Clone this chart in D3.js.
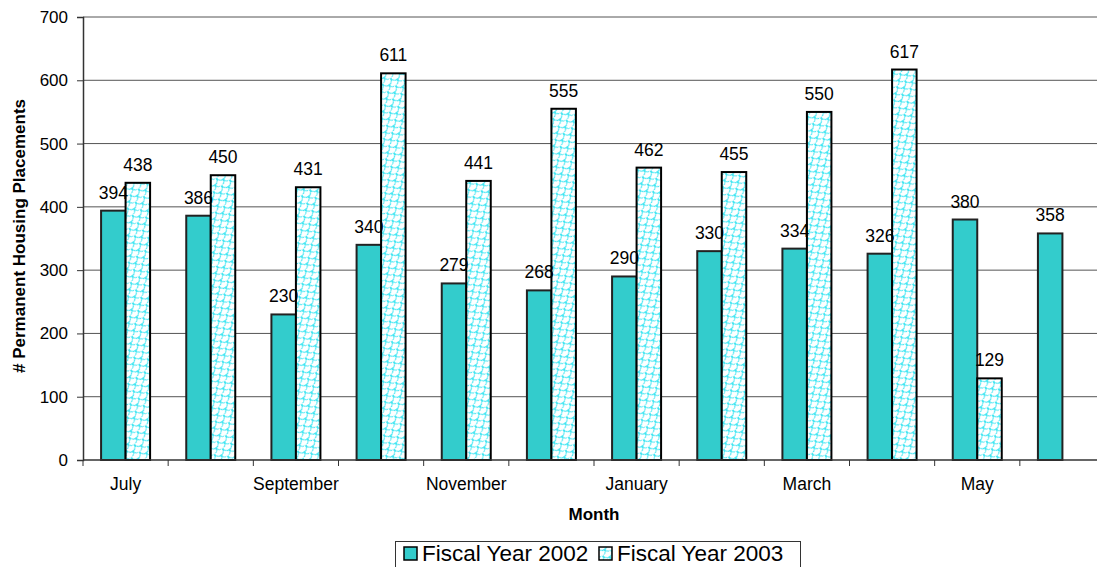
<!DOCTYPE html>
<html>
<head>
<meta charset="utf-8">
<script src="https://cdn.jsdelivr.net/npm/d3@7"></script>
<style>
  body { margin: 0; background: #fff; }
  svg { font-family: "Liberation Sans", Arial, sans-serif; }
</style>
</head>
<body>
<svg id="chart" width="1097" height="567"></svg>
<script>
var months = ["July","August","September","October","November","December","January","February","March","April","May","June"]
var shownMonths = ["July","September","November","January","March","May"]
var fy2002 = [394, 386, 230, 340, 279, 268, 290, 330, 334, 326, 380, 358]
var fy2003 = [438, 450, 431, 611, 441, 555, 462, 455, 550, 617, 129, null]
var yTicks = [0, 100, 200, 300, 400, 500, 600, 700]
var seriesNames = ["Fiscal Year 2002", "Fiscal Year 2003"]

var svg = d3.select("#chart")
var plotL = 83, plotR = 1105, plotT = 17, plotB = 460

// fish-scale pattern for FY 2003
var defs = svg.append("defs")
var pat = defs.append("pattern")
    .attr("id", "hatch")
    .attr("patternUnits", "userSpaceOnUse")
    .attr("width", 10).attr("height", 9)
    .attr("patternTransform", "rotate(-35)")
pat.append("rect").attr("width", 10).attr("height", 9).attr("fill", "#fff")
pat.append("path")
    .attr("d", "M0,4.5 A5,5 0 0,0 10,4.5 M-5,9 A5,5 0 0,0 5,9 M5,9 A5,5 0 0,0 15,9 M-5,0 A5,5 0 0,0 5,0 M5,0 A5,5 0 0,0 15,0")
    .attr("fill", "none").attr("stroke", "#10e0f0").attr("stroke-width", 1)

var x = d3.scaleBand().domain(months).range([plotL, plotR])
var y = d3.scaleLinear().domain([0, 700]).range([plotB, plotT])
var barW = 24.5

// gridlines
svg.append("g").selectAll("line").data(yTicks.slice(1)).join("line")
    .attr("x1", plotL).attr("x2", plotR)
    .attr("y1", d => y(d)).attr("y2", d => y(d))
    .attr("stroke", "#555").attr("stroke-width", 1)

// y axis
var yAxis = svg.append("g").attr("transform", "translate(" + plotL + ",0)")
    .call(d3.axisLeft(y).tickValues(yTicks).tickSize(6).tickPadding(9))
yAxis.select(".domain").attr("stroke", "#333").attr("stroke-width", 1.5)
yAxis.selectAll(".tick line").attr("stroke", "#333")
yAxis.selectAll("text").attr("font-size", 17).attr("fill", "#000")
    .attr("font-family", "Liberation Sans, Arial, sans-serif")

// bars
var g = svg.append("g")
g.selectAll(".b2002").data(months).join("rect")
    .attr("x", (d, i) => x(d) + x.bandwidth() / 2 - barW)
    .attr("y", (d, i) => y(fy2002[i]))
    .attr("width", barW)
    .attr("height", (d, i) => y(0) - y(fy2002[i]))
    .attr("fill", "#33cccc").attr("stroke", "#222").attr("stroke-width", 2)

var m03 = months.filter((d, i) => fy2003[i] != null)
g.selectAll(".b2003").data(m03).join("rect")
    .attr("x", d => x(d) + x.bandwidth() / 2)
    .attr("y", d => y(fy2003[months.indexOf(d)]))
    .attr("width", barW)
    .attr("height", d => y(0) - y(fy2003[months.indexOf(d)]))
    .attr("fill", "url(#hatch)").attr("stroke", "#000").attr("stroke-width", 2)

// value labels
g.selectAll(".l2002").data(months).join("text")
    .attr("x", d => x(d) + x.bandwidth() / 2 - barW / 2)
    .attr("y", (d, i) => y(fy2002[i]) - 12)
    .attr("text-anchor", "middle").attr("font-size", 17.5)
    .text((d, i) => fy2002[i])
g.selectAll(".l2003").data(m03).join("text")
    .attr("x", d => x(d) + x.bandwidth() / 2 + barW / 2)
    .attr("y", d => y(fy2003[months.indexOf(d)]) - 12)
    .attr("text-anchor", "middle").attr("font-size", 17.5)
    .text(d => fy2003[months.indexOf(d)])

// x axis line and ticks at band edges
svg.append("line").attr("x1", plotL).attr("x2", plotR)
    .attr("y1", plotB).attr("y2", plotB)
    .attr("stroke", "#333").attr("stroke-width", 1.5)
svg.append("g").selectAll("line").data(months).join("line")
    .attr("x1", d => x(d)).attr("x2", d => x(d))
    .attr("y1", plotB).attr("y2", plotB + 6)
    .attr("stroke", "#333")
svg.append("g").selectAll("text").data(shownMonths).join("text")
    .attr("x", d => x(d) + x.bandwidth() / 2)
    .attr("y", 490)
    .attr("text-anchor", "middle").attr("font-size", 17.5)
    .text(d => d)

// axis titles
svg.append("text").attr("x", (plotL + plotR) / 2).attr("y", 520)
    .attr("text-anchor", "middle").attr("font-size", 17).attr("font-weight", "bold")
    .text("Month")
svg.append("text")
    .attr("transform", "translate(25," + 236 + ") rotate(-90)")
    .attr("text-anchor", "middle").attr("font-size", 17).attr("font-weight", "bold")
    .text("# Permanent Housing Placements")

// legend
var lg = svg.append("g")
lg.append("rect").attr("x", 395.5).attr("y", 541.5).attr("width", 405).attr("height", 30)
    .attr("fill", "#fff").attr("stroke", "#333").attr("stroke-width", 1)
var lx = [404, 599]
lg.selectAll(".sw").data(seriesNames).join("rect")
    .attr("x", (d, i) => lx[i]).attr("y", 547)
    .attr("width", 13).attr("height", 13)
    .attr("fill", (d, i) => i === 0 ? "#33cccc" : "url(#hatch)")
    .attr("stroke", "#000").attr("stroke-width", 1.5)
lg.selectAll(".lt").data(seriesNames).join("text")
    .attr("x", (d, i) => lx[i] + 18).attr("y", 561)
    .attr("font-size", 22.5)
    .text(d => d)
</script>
</body>
</html>
